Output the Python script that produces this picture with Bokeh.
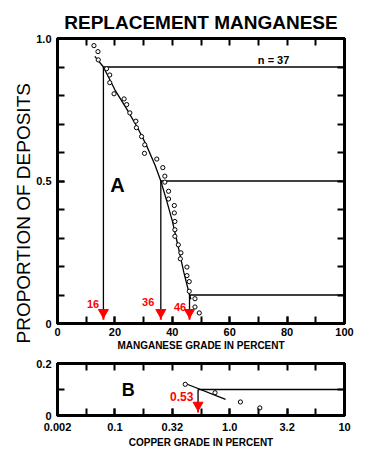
from bokeh.plotting import figure
from bokeh.models import LinearAxis, LogAxis, FixedTicker, CustomJSTickFormatter, LogScale, Title
from bokeh.layouts import column
from bokeh.embed import file_html
from bokeh.resources import INLINE
from bokeh.core.properties import value

# ---------------- data: panel A (manganese grade) ----------------
mn_grade = [12.7, 14.1, 14.2, 17.1, 18.2, 18.2, 19.7, 23.2, 24.1, 25.2, 27.3, 27.5,
            29.3, 30.4, 30.3, 34.6, 36.7, 37.4, 37.4, 38.7, 38.7, 40.7, 40.7, 40.9,
            40.9, 40.9, 42.1, 43.0, 42.8, 45.1, 45.1, 45.9, 45.9, 47.9, 47.9, 49.4]
mn_prop = [0.975, 0.954, 0.925, 0.894, 0.872, 0.845, 0.806, 0.788, 0.768, 0.739, 0.71, 0.687,
           0.656, 0.627, 0.597, 0.577, 0.547, 0.517, 0.496, 0.464, 0.437, 0.414, 0.388, 0.358,
           0.329, 0.306, 0.276, 0.248, 0.227, 0.198, 0.168, 0.147, 0.113, 0.087, 0.058, 0.037]
mn_fit_grade = [13, 16, 20, 24, 28, 31, 34, 36, 38, 40, 42, 44, 46, 46.5]
mn_fit_prop = [0.937, 0.9, 0.82, 0.755, 0.685, 0.625, 0.555, 0.5, 0.432, 0.36, 0.272, 0.18, 0.1, 0.085]
mn_pct_grade = [16, 36, 46]
mn_pct_prop = [0.9, 0.5, 0.1]
mn_pct_labels = ["16", "36", "46"]
mn_label_grade = [12.4, 31.6, 42.7]
mn_label_prop = [0.069, 0.074, 0.059]
mn_arrow_prop = 0.039
mn_stem_prop = 0.013

x_ticks_a = [0, 20, 40, 60, 80, 100]
x_labels_a = ["0", "20", "40", "60", "80", "100"]
x_minor_a = [0, 10, 20, 30, 40, 50, 60, 70, 80, 90, 100]
y_ticks_a = [0, 0.5, 1.0]
y_labels_a = ["0", "0.5", "1.0"]
y_minor_a = [0, 0.1, 0.2, 0.3, 0.4, 0.5, 0.6, 0.7, 0.8, 0.9, 1.0]

# ---------------- data: panel B (copper grade) ----------------
cu_grade = [0.41, 0.745, 1.24, 1.83]
cu_prop = [0.12, 0.0875, 0.052, 0.029]
cu_fit_grade = [0.40, 0.92]
cu_fit_prop = [0.125, 0.062]
cu_pct_grade = [0.53]
cu_pct_prop = [0.1]
cu_pct_labels = ["0.53"]
cu_label_grade = [0.382]
cu_label_prop = [0.072]
cu_arrow_prop = 0.040
cu_stem_prop = 0.012

x_ticks_b = [10 ** -1.5, 0.1, 10 ** -0.5, 1.0, 10 ** 0.5, 10.0]
x_labels_b = ["0.002", "0.1", "0.32", "1.0", "3.2", "10"]
x_minor_b = [10 ** (-1.5 + 0.25 * k) for k in range(11)]
y_ticks_b = [0, 0.2]
y_labels_b = ["0", "0.2"]
y_minor_b = [0.1]

FONT = "Liberation Sans"
NARROW = "'Liberation Sans Narrow', 'Liberation Sans'"
RED = "#ff0000"


def fmt(ticks, labels):
    return CustomJSTickFormatter(args=dict(tv=ticks, lab=labels), code="""
        for (let i = 0; i < tv.length; i++) {
            if (Math.abs(tv[i] - tick) <= 1e-6 * Math.abs(tv[i]) + 1e-9) return lab[i];
        }
        return "";
    """)


def style_axis(ax, label_size="11px"):
    ax.axis_line_width = 3
    ax.axis_line_color = "black"
    ax.major_tick_in = 7
    ax.major_tick_out = 0
    ax.minor_tick_in = 7
    ax.minor_tick_out = 0
    ax.major_tick_line_width = 2
    ax.minor_tick_line_width = 2
    ax.major_label_text_font = NARROW
    ax.major_label_text_font_style = "bold"
    ax.major_label_text_font_size = label_size
    ax.major_label_text_color = "black"
    ax.axis_label_text_font = FONT
    ax.axis_label_text_font_style = "bold"
    ax.axis_label_text_color = "black"


# ================= panel A =================
p1 = figure(width=370, height=353, x_range=(0, 100), y_range=(0, 1),
            x_axis_type=None, y_axis_type=None,
            output_backend="svg", toolbar_location=None,
            min_border_left=57, min_border_right=26, min_border_top=38, min_border_bottom=30)
p1.grid.visible = False
p1.outline_line_color = "black"
p1.outline_line_width = 3
p1.title.text = "REPLACEMENT MANGANESE"
p1.title.align = "center"
p1.title.text_font = FONT
p1.title.text_font_size = "19px"
p1.title.text_font_style = "bold"
p1.title.text_color = "black"
p1.title.offset = -3
p1.title.standoff = 11

xb = LinearAxis(ticker=FixedTicker(ticks=x_ticks_a, minor_ticks=x_minor_a),
                formatter=fmt(x_ticks_a, x_labels_a),
                axis_label="MANGANESE GRADE IN PERCENT")
style_axis(xb)
xb.major_label_standoff = 4
xb.axis_label_standoff = 1
xb.axis_label_text_font_size = "10px"
p1.add_layout(xb, "below")

yl = LinearAxis(ticker=FixedTicker(ticks=y_ticks_a, minor_ticks=y_minor_a),
                formatter=fmt(y_ticks_a, y_labels_a))
style_axis(yl)
yl.major_label_standoff = 6
p1.add_layout(yl, "left")

# y-axis title as a side title, starting a little below the frame bottom like the original
p1.add_layout(Title(text="PROPORTION OF DEPOSITS", align="left", offset=-20,
                    text_font=FONT, text_font_size="19px", text_font_style="normal",
                    text_color="black", standoff=0), "left")

xt = LinearAxis(ticker=FixedTicker(ticks=[], minor_ticks=x_minor_a))
style_axis(xt)
xt.major_label_standoff = 0
p1.add_layout(xt, "above")

yr = LinearAxis(ticker=FixedTicker(ticks=[], minor_ticks=y_minor_a))
style_axis(yr)
yr.major_label_standoff = 0
p1.add_layout(yr, "right")

# guide lines
p1.segment(x0=mn_pct_grade, y0=mn_pct_prop, x1=[100] * 3, y1=mn_pct_prop,
           line_color="black", line_width=1.3)
p1.segment(x0=mn_pct_grade, y0=mn_pct_prop, x1=mn_pct_grade, y1=[mn_arrow_prop] * 3,
           line_color="black", line_width=1.3)
# fitted curve
p1.line(mn_fit_grade, mn_fit_prop, line_color="black", line_width=1.3)
# data points
p1.scatter(mn_grade, mn_prop, marker="circle", size=4.2, fill_color="white",
           line_color="black", line_width=1)
# red arrows
p1.segment(x0=mn_pct_grade, y0=[mn_arrow_prop] * 3, x1=mn_pct_grade, y1=[mn_stem_prop] * 3,
           line_color=RED, line_width=2)
p1.scatter(mn_pct_grade, [mn_arrow_prop] * 3, marker="inverted_triangle", size=10,
           fill_color=RED, line_color=RED)
p1.text(mn_label_grade, mn_label_prop, text=mn_pct_labels, text_color=RED,
        text_font=value(FONT), text_font_style="bold", text_font_size="11px",
        text_align="center", text_baseline="middle")
p1.text([75.3], [0.923], text=["n = 37"], text_color="black",
        text_font=value(FONT), text_font_style="bold", text_font_size="11px",
        text_align="center", text_baseline="middle")
p1.text([20.9], [0.485], text=["A"], text_color="black",
        text_font=value(FONT), text_font_style="bold", text_font_size="20px",
        text_align="center", text_baseline="middle")

# ================= panel B =================
p2 = figure(width=370, height=100, x_range=(10 ** -1.5, 10), y_range=(0, 0.2),
            x_axis_type=None, y_axis_type=None,
            output_backend="svg", toolbar_location=None,
            min_border_left=57, min_border_right=26, min_border_top=10, min_border_bottom=38)
p2.grid.visible = False
p2.outline_line_color = "black"
p2.outline_line_width = 3
p2.x_scale = LogScale()

xb2 = LogAxis(ticker=FixedTicker(ticks=x_ticks_b, minor_ticks=x_minor_b),
              formatter=fmt(x_ticks_b, x_labels_b),
              axis_label="COPPER GRADE IN PERCENT")
style_axis(xb2, "11px")
xb2.major_label_standoff = 7
xb2.axis_label_standoff = 3
xb2.axis_label_text_font_size = "10px"
p2.add_layout(xb2, "below")

yl2 = LinearAxis(ticker=FixedTicker(ticks=y_ticks_b, minor_ticks=y_minor_b),
                 formatter=fmt(y_ticks_b, y_labels_b))
style_axis(yl2)
yl2.major_label_standoff = 6
p2.add_layout(yl2, "left")

xt2 = LogAxis(ticker=FixedTicker(ticks=[], minor_ticks=x_minor_b))
style_axis(xt2)
xt2.major_label_standoff = 0
p2.add_layout(xt2, "above")

yr2 = LinearAxis(ticker=FixedTicker(ticks=[], minor_ticks=y_minor_b))
style_axis(yr2)
yr2.major_label_standoff = 0
p2.add_layout(yr2, "right")

p2.segment(x0=cu_pct_grade, y0=cu_pct_prop, x1=[10.0], y1=cu_pct_prop,
           line_color="black", line_width=1.3)
p2.segment(x0=cu_pct_grade, y0=cu_pct_prop, x1=cu_pct_grade, y1=[cu_arrow_prop],
           line_color="black", line_width=1.3)
p2.line(cu_fit_grade, cu_fit_prop, line_color="black", line_width=1.3)
p2.scatter(cu_grade, cu_prop, marker="circle", size=4.2, fill_color="white",
           line_color="black", line_width=1)
p2.segment(x0=cu_pct_grade, y0=[cu_arrow_prop], x1=cu_pct_grade, y1=[cu_stem_prop],
           line_color=RED, line_width=2)
p2.scatter(cu_pct_grade, [cu_arrow_prop], marker="inverted_triangle", size=10,
           fill_color=RED, line_color=RED)
p2.text(cu_label_grade, cu_label_prop, text=cu_pct_labels, text_color=RED,
        text_font=value(FONT), text_font_style="bold", text_font_size="12px",
        text_align="center", text_baseline="middle")
p2.text([0.1305], [0.099], text=["B"], text_color="black",
        text_font=value(FONT), text_font_style="bold", text_font_size="18px",
        text_align="center", text_baseline="middle")

layout = column(p1, p2, spacing=0)
open("out.html", "w").write(file_html(layout, INLINE))
